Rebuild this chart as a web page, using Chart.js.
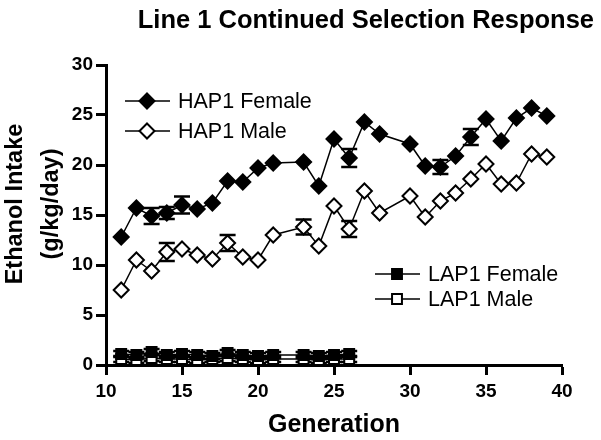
<!DOCTYPE html>
<html>
<head>
<meta charset="utf-8">
<script src="https://cdn.jsdelivr.net/npm/chart.js@4.4.1/dist/chart.umd.min.js"></script>
<style>
    html, body { margin: 0; padding: 0; background: #fff; }
</style>
</head>
<body>
<canvas id="chart" width="601" height="440"></canvas>
<script>
// generations with data (22 and 29 missing for HAP, LAP stops at 26)
const hapGenerations = [11, 12, 13, 14, 15, 16, 17, 18, 19, 20, 21, 23, 24, 25, 26, 27, 28, 30, 31, 32, 33, 34, 35, 36, 37, 38, 39];
const hapFemale = [12.8, 15.7, 14.9, 15.2, 16.0, 15.6, 16.2, 18.4, 18.3, 19.7, 20.2, 20.3, 17.9, 22.6, 20.7, 24.3, 23.1, 22.1, 19.9, 19.8, 20.9, 22.8, 24.6, 22.4, 24.7, 25.7, 24.9];
const hapFemaleErr = [0, 0, 0.8, 0.6, 0.85, 0, 0, 0, 0, 0, 0, 0, 0, 0, 0.9, 0, 0, 0, 0, 0.7, 0, 0.8, 0, 0, 0, 0, 0];
const hapMale = [7.5, 10.5, 9.4, 11.3, 11.6, 11.0, 10.6, 12.2, 10.8, 10.5, 13.0, 13.8, 11.9, 15.9, 13.6, 17.4, 15.2, 16.9, 14.8, 16.4, 17.2, 18.6, 20.1, 18.1, 18.2, 21.1, 20.8];
const hapMaleErr = [0, 0, 0, 0.9, 0, 0, 0, 0.8, 0, 0, 0, 0.75, 0, 0, 0.8, 0, 0, 0, 0, 0, 0, 0, 0, 0, 0, 0, 0];

const lapGenerations = [11, 12, 13, 14, 15, 16, 17, 18, 19, 20, 21, 23, 24, 25, 26];
const lapFemale = [1.1, 1.0, 1.3, 1.0, 1.1, 1.0, 0.9, 1.2, 1.0, 0.9, 1.0, 1.0, 0.9, 1.0, 1.1];
const lapFemaleErr = [0.3, 0.3, 0.3, 0.3, 0.3, 0.3, 0.3, 0.3, 0.3, 0.3, 0.3, 0.3, 0.3, 0.3, 0.3];
const lapMale = [0.6, 0.5, 0.7, 0.6, 0.6, 0.5, 0.6, 0.7, 0.6, 0.5, 0.6, 0.6, 0.5, 0.6, 0.6];
const lapMaleErr = [0.3, 0.3, 0.3, 0.3, 0.3, 0.3, 0.3, 0.3, 0.3, 0.3, 0.3, 0.3, 0.3, 0.3, 0.3];

const xTicks = [10, 15, 20, 25, 30, 35, 40];
const yTicks = [0, 5, 10, 15, 20, 25, 30];

const FONT = 'Arial, "Liberation Sans", sans-serif';

function toPoints(xs, ys) {
    return xs.map((x, i) => ({ x, y: ys[i] }));
}

function series(label, xs, ys, errs, style, filled, radius) {
    return {
        label,
        data: toPoints(xs, ys),
        errors: errs,
        borderColor: '#000',
        borderWidth: 1.5,
        pointStyle: style,
        pointRadius: radius,
        pointHoverRadius: radius,
        pointBackgroundColor: filled ? '#000' : '#fff',
        pointBorderColor: '#000',
        pointBorderWidth: 2,
        fill: false,
        tension: 0
    };
}

function drawMarker(ctx, style, filled, x, y, r) {
    ctx.save();
    ctx.beginPath();
    if (style === 'rectRot') {
        ctx.moveTo(x, y - r);
        ctx.lineTo(x + r, y);
        ctx.lineTo(x, y + r);
        ctx.lineTo(x - r, y);
    } else {
        const s = r * Math.SQRT1_2;
        ctx.rect(x - s, y - s, 2 * s, 2 * s);
    }
    ctx.closePath();
    ctx.fillStyle = filled ? '#000' : '#fff';
    ctx.fill();
    ctx.lineWidth = 2;
    ctx.strokeStyle = '#000';
    ctx.stroke();
    ctx.restore();
}

// error bars go under the markers
const errorBars = {
    id: 'errorBars',
    beforeDatasetsDraw(chart) {
        const ctx = chart.ctx;
        const xs = chart.scales.x, ys = chart.scales.y;
        ctx.save();
        ctx.strokeStyle = '#000';
        ctx.lineWidth = 2.5;
        chart.data.datasets.forEach(ds => {
            ds.data.forEach((p, i) => {
                const e = ds.errors[i];
                if (!e) return;
                const px = xs.getPixelForValue(p.x);
                const top = ys.getPixelForValue(p.y + e);
                const bot = ys.getPixelForValue(p.y - e);
                ctx.beginPath();
                ctx.moveTo(px, top); ctx.lineTo(px, bot);
                ctx.moveTo(px - 8, top); ctx.lineTo(px + 8, top);
                ctx.moveTo(px - 8, bot); ctx.lineTo(px + 8, bot);
                ctx.stroke();
            });
        });
        ctx.restore();
    }
};

const labels = {
    id: 'labels',
    afterDraw(chart) {
        const ctx = chart.ctx;
        const area = chart.chartArea;
        ctx.save();
        ctx.fillStyle = '#000';

        // title
        ctx.font = 'bold 25.5px ' + FONT;
        ctx.textAlign = 'right';
        ctx.textBaseline = 'middle';
        ctx.fillText('Line 1 Continued Selection Response', 594, 21);

        // x axis title
        ctx.font = 'bold 25px ' + FONT;
        ctx.textAlign = 'center';
        ctx.fillText('Generation', (area.left + area.right) / 2, 425);

        // y axis title
        ctx.font = 'bold 23.5px ' + FONT;
        ctx.save();
        ctx.translate(16, 204);
        ctx.rotate(-Math.PI / 2);
        ctx.fillText('Ethanol Intake', 0, 0);
        ctx.restore();
        ctx.save();
        ctx.translate(52, 204);
        ctx.rotate(-Math.PI / 2);
        ctx.fillText('(g/kg/day)', 0, 0);
        ctx.restore();

        // legends
        const entries = [
            { text: 'HAP1 Female', style: 'rectRot', filled: true, r: 7.5, x: 125, y: 101 },
            { text: 'HAP1 Male', style: 'rectRot', filled: false, r: 7.5, x: 125, y: 131 },
            { text: 'LAP1 Female', style: 'rect', filled: true, r: 7, x: 375, y: 274 },
            { text: 'LAP1 Male', style: 'rect', filled: false, r: 7, x: 375, y: 299 }
        ];
        ctx.font = '21.5px ' + FONT;
        ctx.textAlign = 'left';
        entries.forEach(en => {
            ctx.beginPath();
            ctx.lineWidth = 1.5;
            ctx.strokeStyle = '#000';
            ctx.moveTo(en.x, en.y);
            ctx.lineTo(en.x + 45, en.y);
            ctx.stroke();
            drawMarker(ctx, en.style, en.filled, en.x + 22, en.y, en.r);
            ctx.fillText(en.text, en.x + 53, en.y + 1);
        });
        ctx.restore();
    }
};

const axisStyle = {
    border: { display: true, color: '#000', width: 3 },
    grid: { drawOnChartArea: false, color: '#000', tickLength: 10, tickWidth: 3 },
};

new Chart(document.getElementById('chart').getContext('2d'), {
    type: 'line',
    data: {
        datasets: [
            series('HAP1 Female', hapGenerations, hapFemale, hapFemaleErr, 'rectRot', true, 7.5),
            series('HAP1 Male', hapGenerations, hapMale, hapMaleErr, 'rectRot', false, 7.5),
            series('LAP1 Female', lapGenerations, lapFemale, lapFemaleErr, 'rect', true, 7),
            series('LAP1 Male', lapGenerations, lapMale, lapMaleErr, 'rect', false, 7)
        ]
    },
    options: {
        responsive: false,
        animation: false,
        devicePixelRatio: 1,
        layout: { padding: { left: 0, right: 39, top: 65, bottom: 0 } },
        plugins: {
            legend: { display: false },
            title: { display: false },
            tooltip: { enabled: false }
        },
        scales: {
            x: {
                type: 'linear',
                min: 10,
                max: 40,
                afterFit: s => { s.height = 75; },
                afterBuildTicks: s => { s.ticks = xTicks.map(v => ({ value: v })); },
                ticks: { color: '#000', padding: 5, font: { family: FONT, size: 19, weight: 'bold' } },
                ...axisStyle
            },
            y: {
                type: 'linear',
                min: 0,
                max: 30,
                afterFit: s => { s.width = 106; },
                afterBuildTicks: s => { s.ticks = yTicks.map(v => ({ value: v })); },
                ticks: { color: '#000', padding: 3, font: { family: FONT, size: 19, weight: 'bold' } },
                ...axisStyle
            }
        }
    },
    plugins: [errorBars, labels]
});
</script>
</body>
</html>
